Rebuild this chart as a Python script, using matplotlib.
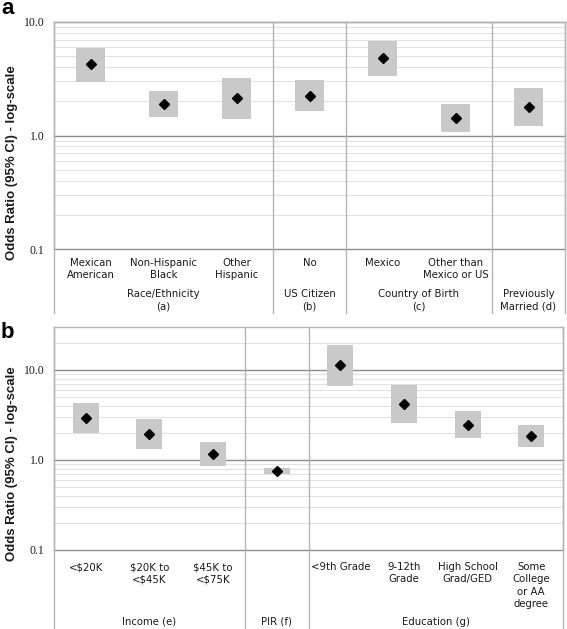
import matplotlib
matplotlib.use("Agg")
import matplotlib.pyplot as plt
import numpy as np

# panel a
a_labels = ["Mexican\nAmerican", "Non-Hispanic\nBlack", "Other\nHispanic", "No",
            "Mexico", "Other than\nMexico or US", ""]
a_or = [4.24, 1.91, 2.13, 2.25, 4.82, 1.44, 1.79]
a_lo = [2.99, 1.47, 1.41, 1.64, 3.37, 1.08, 1.22]
a_hi = [5.94, 2.45, 3.22, 3.07, 6.85, 1.90, 2.63]
a_groups = ["Race/Ethnicity\n(a)", "US Citizen\n(b)", "Country of Birth\n(c)", "Previously\nMarried (d)"]
a_group_sizes = [3, 1, 2, 1]

# panel b
b_labels = ["<$20K", "$20K to\n<$45K", "$45K to\n<$75K", "", "<9th Grade", "9-12th\nGrade",
            "High School\nGrad/GED", "Some\nCollege\nor AA\ndegree"]
b_or = [2.95, 1.94, 1.16, 0.755, 11.3, 4.19, 2.47, 1.85]
b_lo = [2.01, 1.32, 0.857, 0.705, 6.7, 2.55, 1.74, 1.39]
b_hi = [4.34, 2.85, 1.60, 0.815, 18.9, 6.75, 3.53, 2.47]
b_groups = ["Income (e)", "PIR (f)", "Education (g)"]
b_group_sizes = [3, 1, 4]

W, H = 567, 629
fig = plt.figure(figsize=(W / 100, H / 100), dpi=100)

FRAME = "#b4b4b4"
MAJOR = "#8c8c8c"
MINOR = "#e2e2e2"
TXT = "#1a1a1a"


def draw_panel(rect_px, ymax, labels, ors, los, his, groups, sizes,
               cat_top, grp_top, grp_va, bottom_px, letter, letter_y, ylab_y):
    left, top, right, bot = rect_px
    ax = fig.add_axes([left / W, 1 - bot / H, (right - left) / W, (bot - top) / H])
    hpx = bot - top
    n = len(labels)
    x = np.arange(n)
    ax.set_yscale("log")
    ax.set_xlim(-0.5, n - 0.5)
    ax.set_ylim(0.1, ymax)

    for dec in [0.1, 1, 10]:
        for m in range(2, 10):
            v = dec * m
            if v < ymax:
                ax.axhline(v, color=MINOR, lw=0.8, zorder=1)
    for v in [0.1, 1, 10]:
        if v <= ymax:
            ax.axhline(v, color=MAJOR, lw=1.0, zorder=1.5, clip_on=False)

    his = np.array(his)
    los = np.array(los)
    ax.bar(x, his - los, bottom=los, width=0.41, color="#c9c9c9", zorder=2)
    ax.plot(x, ors, "D", color="black", ms=5, zorder=3)

    ax.set_xticks([])
    ax.set_yticks([0.1, 1, 10])
    ax.set_yticklabels(["0.1", "1.0", "10.0"], family="Liberation Serif", fontsize=8.5, color=TXT)
    ax.yaxis.set_minor_locator(matplotlib.ticker.NullLocator())
    ax.tick_params(axis="y", length=0, pad=7)
    for s in ["top", "left", "right"]:
        ax.spines[s].set_color(FRAME)
        ax.spines[s].set_linewidth(1.0)
    ax.spines["bottom"].set_visible(False)

    tr = ax.get_xaxis_transform()
    depth = -(bottom_px - bot) / hpx
    # frame and separators run down through the label area
    bounds = np.concatenate([[0], np.cumsum(sizes)]) - 0.5
    for b in bounds:
        ax.plot([b, b], [1, depth], color=FRAME, lw=1.0, transform=tr, clip_on=False, zorder=4)

    for xi, lab in zip(x, labels):
        ax.text(xi, -(cat_top - bot) / hpx, lab, transform=tr, ha="center", va="top",
                fontsize=7.3, color=TXT, linespacing=1.3, parse_math=False)
    for i, g in enumerate(groups):
        cx = (bounds[i] + bounds[i + 1]) / 2
        ax.text(cx, -(grp_top - bot) / hpx, g, transform=tr, ha="center", va=grp_va,
                fontsize=7.3, color=TXT, linespacing=1.3, parse_math=False)

    fig.text(1 / W, 1 - letter_y / H, letter, fontsize=16, fontweight="bold",
             family="Liberation Sans", va="baseline", ha="left")
    fig.text(12 / W, 1 - ylab_y / H, "Odds Ratio (95% CI) - log-scale", rotation=90,
             fontsize=9.5, fontweight="bold", family="Liberation Sans", color=TXT,
             ha="center", va="center")
    return ax


draw_panel((54, 22, 565, 249), 10, a_labels, a_or, a_lo, a_hi, a_groups, a_group_sizes,
           cat_top=258, grp_top=289, grp_va="top", bottom_px=313, letter="a",
           letter_y=14, ylab_y=163)
draw_panel((54, 327, 563, 550), 30, b_labels, b_or, b_lo, b_hi, b_groups, b_group_sizes,
           cat_top=562, grp_top=627, grp_va="bottom", bottom_px=628, letter="b",
           letter_y=338, ylab_y=464)

fig.savefig("out.png", dpi=100)
